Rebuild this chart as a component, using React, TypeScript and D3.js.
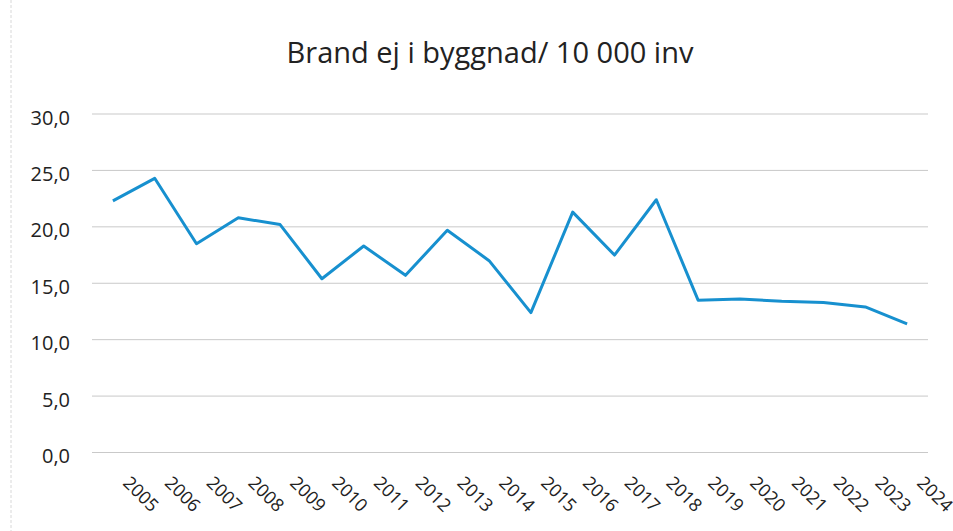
import React from "react";
import * as d3 from "d3";

const title = "Brand ej i byggnad/ 10 000 inv";
const years = ["2005","2006","2007","2008","2009","2010","2011","2012","2013","2014","2015","2016","2017","2018","2019","2020","2021","2022","2023","2024"];
const values = [22.3, 24.3, 18.5, 20.8, 20.2, 15.4, 18.3, 15.7, 19.7, 17.0, 12.4, 21.3, 17.5, 22.4, 13.5, 13.6, 13.4, 13.3, 12.9, 11.4];
const yTicks = [0, 5, 10, 15, 20, 25, 30];

const W = 953;
const H = 531;
const plotLeft = 92;
const plotRight = 928;
const plotTop = 114;
const plotBottom = 452.5;

export default function App() {
  const x = d3.scaleBand<string>().domain(years).range([plotLeft, plotRight]);
  const y = d3.scaleLinear().domain([0, 30]).range([plotBottom, plotTop]);
  const line = d3
    .line<number>()
    .x((_, i) => (x(years[i]) as number) + x.bandwidth() / 2)
    .y((d) => y(d));
  const fmt = (v: number) => v.toFixed(1).replace(".", ",");
  const font = "'Open Sans', 'DejaVu Sans', sans-serif";

  return (
    <svg
      width={W}
      height={H}
      style={{ position: "absolute", left: 0, top: 0, background: "#fff" }}
    >
      <rect x={0} y={0} width={W} height={H} fill="#fff" />
      <line x1={11} x2={11} y1={0} y2={H} stroke="#d8d8d8" strokeWidth={1} strokeDasharray="3,2" />
      <text x={490} y={63} textAnchor="middle" fontFamily={font} fontSize={29} fill="#222">
        {title}
      </text>
      {yTicks.map((t) => (
        <g key={t}>
          <line
            x1={plotLeft}
            x2={plotRight}
            y1={y(t)}
            y2={y(t)}
            stroke="#c9c9c9"
            strokeWidth={1}
          />
          <text
            x={70}
            y={y(t) + 10.5}
            textAnchor="end"
            fontFamily={font}
            fontSize={20}
            fill="#222"
          >
            {fmt(t)}
          </text>
        </g>
      ))}
      <path d={line(values) || ""} fill="none" stroke="#1790cf" strokeWidth={3} strokeLinejoin="round" />
      {years.map((yr) => {
        const cx = (x(yr) as number) + x.bandwidth() / 2 + 9;
        const cy = 484;
        return (
          <text
            key={yr}
            x={cx}
            y={cy}
            transform={`rotate(45, ${cx}, ${cy})`}
            fontFamily={font}
            fontSize={18}
            fill="#222"
          >
            {yr}
          </text>
        );
      })}
    </svg>
  );
}
